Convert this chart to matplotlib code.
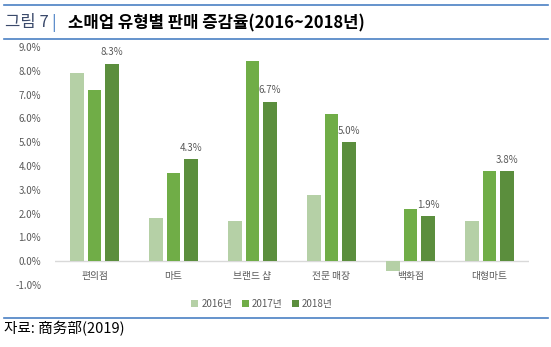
import matplotlib
matplotlib.use('Agg')
import numpy as np
import matplotlib.pyplot as plt
from matplotlib.lines import Line2D

plt.rcParams['font.family'] = ['Noto Sans CJK KR', 'DejaVu Sans']

# 소매업 유형별 판매 증감율 (%)
categories = ['편의점', '마트', '브랜드 샵', '전문 매장', '백화점', '대형마트']
years = ['2016년', '2017년', '2018년']
v2016 = [7.9, 1.8, 1.7, 2.8, -0.4, 1.7]
v2017 = [7.2, 3.7, 8.4, 6.2, 2.2, 3.8]
v2018 = [8.3, 4.3, 6.7, 5.0, 1.9, 3.8]
yticks = [-1, 0, 1, 2, 3, 4, 5, 6, 7, 8, 9]

colors = ['#b5d0a6', '#70ad47', '#5b8e3d']
series = [v2016, v2017, v2018]

W, H = 551, 347
fig = plt.figure(figsize=(W / 100, H / 100), dpi=100)
ax = fig.add_axes([55 / W, (H - 285) / H, (529 - 55) / W, (285 - 47) / H])

x = np.arange(len(categories))
pitch = 0.222
width = 0.169
bars = []
for i, (vals, c, lab) in enumerate(zip(series, colors, years)):
    b = ax.bar(x + (i - 1) * pitch, vals, width, color=c, label=lab, zorder=2)
    bars.append(b)

# 2018년 값만 표시
for rect, v in zip(bars[2], v2018):
    ax.annotate(f'{v:.1f}%', (rect.get_x() + rect.get_width() / 2, v),
                xytext=(0, 4.5), textcoords='offset points',
                ha='center', va='bottom', fontsize=7, color='#595959')

ax.axhline(0, color='#d9d9d9', lw=1, zorder=1)
ax.set_xlim(-0.5, len(categories) - 0.5)
ax.set_ylim(-1, 9)
ax.set_yticks(yticks)
ax.set_yticklabels([f'{t:.1f}%' for t in yticks])
ax.set_xticks([])
# 항목 이름은 0% 선 바로 아래에
for xi, name in zip(x, categories):
    ax.text(xi, -0.63, name, ha='center', va='center', fontsize=7,
            color='#595959')
ax.tick_params(axis='both', length=0, labelsize=7, colors='#595959')
ax.tick_params(axis='y', pad=10)
for s in ax.spines.values():
    s.set_visible(False)

ax.legend(loc='center', bbox_to_anchor=(262 / W, (H - 304) / H),
          bbox_transform=fig.transFigure, ncol=3, frameon=False,
          fontsize=7, labelcolor='#595959', handlelength=0.7,
          handleheight=0.7, handletextpad=0.3, columnspacing=1.0)

# 제목과 구분선
line_c = '#4a80c4'
for yy in (4.7, 39, 318):
    fig.add_artist(Line2D([4 / W, 548 / W], [1 - yy / H, 1 - yy / H],
                          transform=fig.transFigure, color=line_c, lw=1.2))

fig.text(5 / W, 1 - 23 / H, '그림 7', fontsize=12, color='#3b4a6b',
         va='center', ha='left')
fig.text(51 / W, 1 - 23 / H, '|', fontsize=12, color=line_c,
         va='center', ha='left')
fig.text(68 / W, 1 - 23 / H, '소매업 유형별 판매 증감율(2016~2018년)',
         fontsize=12, color='black', fontweight='bold', va='center', ha='left')
fig.text(4 / W, 1 - 329 / H, '자료: 商务部(2019)', fontsize=10.5,
         color='black', va='center', ha='left')

fig.savefig('out.png', dpi=100)
